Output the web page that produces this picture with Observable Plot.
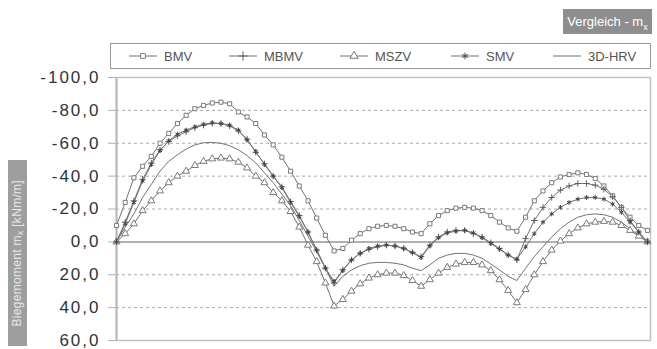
<!DOCTYPE html>
<html><head><meta charset="utf-8">
<script src="https://cdn.jsdelivr.net/npm/d3@7"></script>
<script src="https://cdn.jsdelivr.net/npm/@observablehq/plot@0.6"></script>
<style>
body{margin:0;background:#fff;font-family:"Liberation Sans",Arial,sans-serif}
#wrap{position:relative;width:657px;height:349px;overflow:hidden;background:#fff}
#chart{position:absolute;left:0;top:0}
#title{position:absolute;left:563px;top:9px;width:89px;height:25px;background:#8e8e8e;color:#fff;font-size:13px;line-height:25px;text-align:center;white-space:nowrap}
#title sub,#ylab sub{font-size:9px}
#ylab{position:absolute;left:8px;top:160px;width:19px;height:186px;background:#9e9e9e;color:#e8e8e8;font-size:12px;display:flex;align-items:center;justify-content:center}
#ylab span{writing-mode:vertical-rl;transform:rotate(180deg);white-space:nowrap;letter-spacing:0.3px}
#legend{position:absolute;left:110px;top:43px;width:539px;height:24px;border:1.5px solid #9a9a9a;background:#fff}
.yax text{letter-spacing:2px}
</style></head>
<body><div id="wrap">
<div id="chart"></div>
<div id="title">Vergleich - m<sub>x</sub></div>
<div id="ylab"><span>Biegemoment m<sub>x</sub> [kNm/m]</span></div>
<div id="legend"></div>
</div>
<script>
const seriesNames = ["BMV", "MBMV", "MSZV", "SMV", "3D-HRV"];
const yTicks = [-100, -80, -60, -40, -20, 0, 20, 40, 60];
const gridValues = [-80, -60, -40, -20, 20, 40];

const BMV = [-10, -24, -39, -46, -52, -60, -66, -72, -77, -81, -83, -84.5, -85, -84, -79, -76, -72, -65, -59, -51.5, -43, -34, -25, -14.5, -4, 5.5,
  4, -1, -5, -8, -9.5, -10, -9.5, -8, -6, -5,
  -11, -16, -19, -20.5, -21, -20.5, -19, -16, -12, -8.5, -6.5,
  -15, -25, -31, -36, -39.5, -41, -42, -41, -38.5, -34, -28, -21, -15, -10, -7];
const MBMV = [0, -12, -25, -38, -48, -56, -61, -64.5, -67, -69.5, -71, -72, -72, -70.5, -67.5, -62.5, -54.5, -47.5, -40, -33.5, -24.5, -16, -6, 5, 16, 25,
  17, 11, 7, 4.5, 3, 2, 2.5, 4, 6.5, 9,
  2, -3, -6, -7, -7, -5, -3, 0.5, 4, 8, 11,
  -2, -13, -21, -27, -31.5, -34, -35.5, -35.5, -34.5, -32, -27.5, -21, -13, -6, 0];
const MSZV = [0, -5, -11, -19, -25, -31, -36, -40, -43, -46.5, -49, -50.5, -51, -50.5, -48.5, -45, -40, -36, -30, -25, -18.5, -9, 2, 12, 25, 39,
  35, 30, 25.5, 22, 20, 19, 19, 20.5, 23.5, 27,
  23, 19, 15.5, 13.5, 12.5, 12.5, 14, 17.5, 23, 29.5, 37,
  29, 20, 12, 5, -0.5, -5, -8.5, -11, -12, -12.5, -12, -10, -7, -3.5, 0];
const SMV = [0, -11, -24, -37, -47, -55.5, -61.5, -65.5, -68, -70, -71.5, -72.5, -72, -71, -68, -62, -55, -47, -40, -33, -24, -15.5, -6, 5, 16, 24,
  17.5, 11, 7, 4, 2.5, 2, 2.5, 4, 6.5, 9.5,
  2.5, -2.5, -5.5, -6.5, -7, -5.5, -2.5, 1, 4.5, 8, 10.5,
  3, -5, -12, -17, -21, -24, -26, -27, -27, -26, -23, -18, -12, -6, 0];
const HRV = [0, -9, -17, -27, -35, -43, -49, -53, -56.5, -59, -60.3, -60.5, -60, -58.5, -56, -52.5, -48, -42, -36, -29, -22, -13, -3.5, 6, 16, 27,
  21, 17, 14.5, 13, 12.5, 12.5, 13, 14, 16, 17.5,
  14, 10, 8, 7, 7, 8, 10, 13.5, 17, 21, 23.5,
  16, 9, 3, -3, -8, -12, -15, -16.5, -17, -16.5, -15, -12, -8, -4, 0];

const seriesValues = [BMV, MBMV, MSZV, SMV, HRV];
const points = Array.from({length: BMV.length}, (_, i) => i);

const rows = seriesNames.flatMap((s, k) => points.map(i => ({s, i, v: seriesValues[k][i]})));
const of = s => rows.filter(d => d.s === s);

const fmt = d => d.toFixed(1).replace(".", ",");
const lineColor = "#727272";

const chart = Plot.plot({
  width: 657, height: 349,
  marginTop: 77, marginBottom: 9, marginLeft: 116, marginRight: 7,
  style: {fontFamily: "'Liberation Sans', Arial, sans-serif", background: "transparent"},
  x: {domain: [0, 61.35], axis: null},
  y: {domain: [-100, 60], reverse: true, label: null},
  marks: [
    Plot.ruleY(gridValues, {stroke: "#a8a8a8", strokeDasharray: "3,3", strokeWidth: 1}),
    Plot.ruleY([0], {stroke: "#b0b0b0", strokeWidth: 2}),
    Plot.frame({stroke: "#c2c2c2", strokeWidth: 1.5}),
    Plot.ruleX([0], {stroke: "#b8b8b8", strokeWidth: 2}),
    Plot.axisY({ticks: yTicks, tickFormat: fmt, label: null, tickSize: 8, tickPadding: 8, fontSize: 17, stroke: "#b0b0b0", fill: "#333", className: "yax"}),
    Plot.line(rows, {x: "i", y: "v", z: "s", stroke: lineColor, strokeWidth: 1}),
    Plot.dot(of("BMV"), {x: "i", y: "v", symbol: "square", r: 2.3, fill: "white", stroke: "#7a7a7a", strokeWidth: 1}),
    Plot.dot(of("MSZV"), {x: "i", y: "v", symbol: "triangle", r: 2.6, fill: "white", stroke: "#7a7a7a", strokeWidth: 1}),
    Plot.dot(of("MBMV"), {x: "i", y: "v", symbol: "plus", r: 2.2, stroke: "#606060", strokeWidth: 1}),
    Plot.dot(of("SMV"), {x: "i", y: "v", symbol: "asterisk", r: 2.2, stroke: "#444", strokeWidth: 1})
  ]
});
document.getElementById("chart").appendChild(chart);

// legend
const legendItems = [
  {s: "BMV", x0: 18, sym: d3.symbolSquare, size: 22, fill: "white", stroke: "#7a7a7a"},
  {s: "MBMV", x0: 118, sym: d3.symbolPlus, size: 30, fill: "none", stroke: "#606060"},
  {s: "MSZV", x0: 229, sym: d3.symbolTriangle, size: 28, fill: "white", stroke: "#7a7a7a"},
  {s: "SMV", x0: 340, sym: d3.symbolAsterisk, size: 30, fill: "none", stroke: "#444"},
  {s: "3D-HRV", x0: 442, sym: null}
];
const lg = d3.create("svg").attr("width", 539).attr("height", 24)
  .style("font-family", "'Liberation Sans', Arial, sans-serif");
for (const it of legendItems) {
  const g = lg.append("g").attr("transform", `translate(${it.x0},12)`);
  g.append("line").attr("x1", 0).attr("x2", 28).attr("stroke", lineColor);
  if (it.sym) g.append("path").attr("d", d3.symbol(it.sym, it.size)()).attr("transform", "translate(14,0)")
    .attr("fill", it.fill).attr("stroke", it.stroke);
  g.append("text").attr("x", 35).attr("dy", "0.35em").attr("font-size", 13).attr("fill", "#555").text(it.s);
}
document.getElementById("legend").appendChild(lg.node());
</script>
</body></html>
